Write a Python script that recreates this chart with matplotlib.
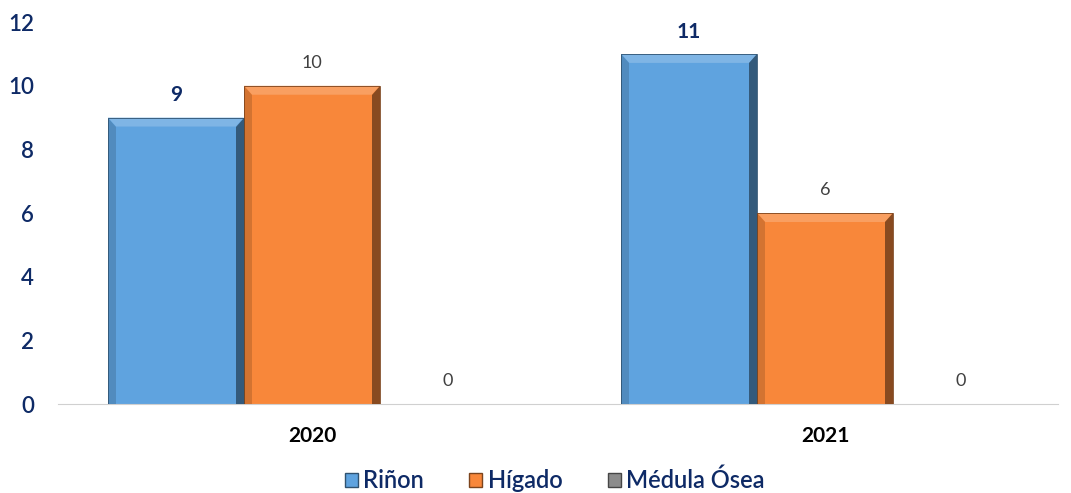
import matplotlib.pyplot as plt
from matplotlib.patches import Polygon, Patch
import matplotlib.colors as mc
import numpy as np

years = ['2020', '2021']
series = ['Riñon', 'Hígado', 'Médula Ósea']
rinon = [9, 11]
higado = [10, 6]
medula = [0, 0]

colors = ['#5FA3DF', '#F8873A', '#8C8C8C']
navy = '#0E2A66'
gray_txt = '#404040'

plt.rcParams['font.family'] = ['Lato', 'DejaVu Sans']

fig = plt.figure(figsize=(10.71, 4.93), dpi=100)
ax = fig.add_axes([0.054, 0.1805, 0.934, 0.7745])

x = np.arange(len(years))
w = 0.265
values = [rinon, higado, medula]


def shade(c, f):
    r, g, b = mc.to_rgb(c)
    if f > 1:
        return (r + (1 - r) * (f - 1), g + (1 - g) * (f - 1), b + (1 - b) * (f - 1))
    return (r * f, g * f, b * f)


def bevel(bar, c):
    x0, y0 = bar.get_x(), bar.get_y()
    bw, bh = bar.get_width(), bar.get_height()
    if bh <= 0:
        return
    dx = bw * 0.06
    dy = min(0.28, bh * 0.3)
    x1 = x0 + bw
    y1 = y0 + bh
    # top
    ax.add_patch(Polygon([(x0, y1), (x1, y1), (x1 - dx, y1 - dy), (x0 + dx, y1 - dy)],
                         closed=True, color=shade(c, 1.2), lw=0, zorder=3))
    # right
    ax.add_patch(Polygon([(x1, y1), (x1, y0), (x1 - dx, y0), (x1 - dx, y1 - dy)],
                         closed=True, color=shade(c, 0.55), lw=0, zorder=3))
    # left
    ax.add_patch(Polygon([(x0, y1), (x0, y0), (x0 + dx, y0), (x0 + dx, y1 - dy)],
                         closed=True, color=shade(c, 0.85), lw=0, zorder=3))
    ax.add_patch(Polygon([(x0, y1), (x1, y1), (x1, y0), (x0, y0)], closed=True,
                         fill=False, ec=shade(c, 0.5), lw=0.6, zorder=4))


for i, (vals, c, name) in enumerate(zip(values, colors, series)):
    bars = ax.bar(x + (i - 1) * w, vals, w, color=c, zorder=2, label=name)
    for b in bars:
        bevel(b, c)
    for xi, v in zip(x + (i - 1) * w, vals):
        if i == 0:
            ax.text(xi, v + 0.7, str(v), ha='center', va='center', fontsize=15,
                    fontweight='bold', color=navy)
        else:
            ax.text(xi, v + 0.72, str(v), ha='center', va='center', fontsize=13,
                    color=gray_txt)

ax.set_xlim(-0.495, 1.454)
ax.set_ylim(0, 12)
ax.set_yticks(range(0, 13, 2))
ax.set_xticks(x)
ax.set_xticklabels(years, fontsize=15, fontweight='bold', color='black')
ax.tick_params(axis='y', labelsize=16, colors=navy, length=0, pad=17)
ax.tick_params(axis='x', length=0, pad=16)
for lab in ax.get_yticklabels():
    lab.set_fontweight('semibold')
for s in ['top', 'right', 'left']:
    ax.spines[s].set_visible(False)
ax.spines['bottom'].set_color('#D0D0D0')

handles = [Patch(facecolor=c, edgecolor=shade(c, 0.5)) for c in colors]
leg = fig.legend(handles, series, loc='center', bbox_to_anchor=(0.518, 0.025), ncol=3,
                 frameon=False, handlelength=0.55, handleheight=0.55,
                 handletextpad=0.25, columnspacing=1.9,
                 prop={'size': 17, 'weight': 'semibold'})
for t in leg.get_texts():
    t.set_color(navy)

fig.savefig('out.png', dpi=100)
